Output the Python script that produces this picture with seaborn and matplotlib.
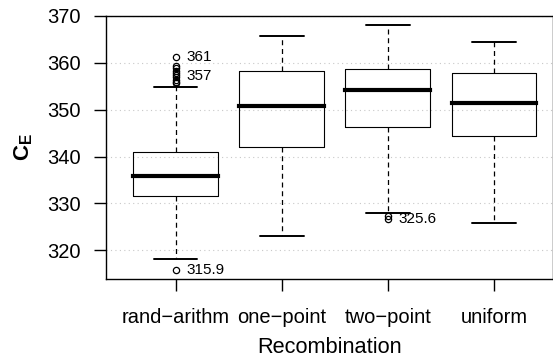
import numpy as np
import pandas as pd
import matplotlib
matplotlib.use("Agg")
import matplotlib.pyplot as plt
import seaborn as sns

# ---- data (five-number summaries + outliers) ----
methods = ["rand\u2212arithm", "one\u2212point", "two\u2212point", "uniform"]
whisker_lo = [318.2, 323.1, 328.0, 325.9]
q1 = [331.6, 342.1, 346.2, 344.3]
median = [335.8, 350.8, 354.1, 351.5]
q3 = [341.0, 358.2, 358.6, 357.9]
whisker_hi = [354.8, 365.8, 368.0, 364.4]
outliers = [
    [315.9, 355.6, 356.0, 356.4, 356.9, 357.3, 357.8, 358.3, 358.8, 359.3, 361.2],
    [],
    [327.3, 326.6],
    [],
]
# labels written next to some outliers
ann_group = [0, 0, 0, 2]
ann_y = [361.2, 357.1, 315.8, 326.6]
ann_text = ["361", "357", "315.9", "325.6"]

# build samples whose quartiles / whiskers equal the summaries above
rows = []
REP = 30
for i, m in enumerate(methods):
    vals = [whisker_lo[i], whisker_hi[i]] + outliers[i]
    vals += [q1[i]] * REP + [median[i]] * REP + [q3[i]] * REP
    rows += [(m, v) for v in vals]
df = pd.DataFrame(rows, columns=["Recombination", "CE"])

sns.set_theme(style="white")
plt.rcParams["font.family"] = ["Liberation Sans", "DejaVu Sans"]
plt.rcParams["mathtext.fontset"] = "custom"
plt.rcParams["mathtext.rm"] = "Liberation Sans"
plt.rcParams["mathtext.bf"] = "Liberation Sans:bold"

fig = plt.figure(figsize=(5.53, 3.6), dpi=100)
ax = fig.add_axes([0.191, 0.225, 0.8085, 0.731])

sns.boxplot(
    data=df, x="Recombination", y="CE", order=methods, ax=ax,
    width=0.8, whis=1.5, fill=False, color="black", linewidth=0.8,
    boxprops=dict(color="black", linewidth=0.8),
    medianprops=dict(color="black", linewidth=3.0, solid_capstyle="projecting"),
    whiskerprops=dict(color="black", linewidth=0.9, linestyle=(0, (4, 3))),
    capprops=dict(color="black", linewidth=1.4),
    flierprops=dict(marker="o", markersize=4.5, markerfacecolor="none",
                    markeredgecolor="black", markeredgewidth=0.9),
    capwidths=0.41,
)

for g, y, t in zip(ann_group, ann_y, ann_text):
    ax.text(g + 0.1, y, t, fontsize=11, va="center", ha="left", color="black")

ax.set_ylim(313.9, 370)
ax.set_xlim(-0.66, 3.553)
ax.set_yticks([320, 330, 340, 350, 360, 370])
ax.yaxis.grid(True, color="#c8c8c8", linestyle=(0, (1, 3)), linewidth=0.8)
ax.xaxis.grid(False)
ax.set_axisbelow(True)

for s in ax.spines.values():
    s.set_visible(True)
    s.set_color("black")
    s.set_linewidth(1.0)

ax.tick_params(axis="both", which="major", direction="out", length=8.8,
               width=1.0, color="black", labelsize=14.5, labelcolor="black",
               left=True, bottom=True)
ax.tick_params(axis="y", pad=9)
ax.tick_params(axis="x", pad=12)

ax.set_xlabel("Recombination", fontsize=15.7, color="black", labelpad=7)
ax.set_ylabel(r"$\mathbf{C}_{\mathbf{E}}$", fontsize=16, color="black", labelpad=9)

fig.savefig("out.png", dpi=100)
